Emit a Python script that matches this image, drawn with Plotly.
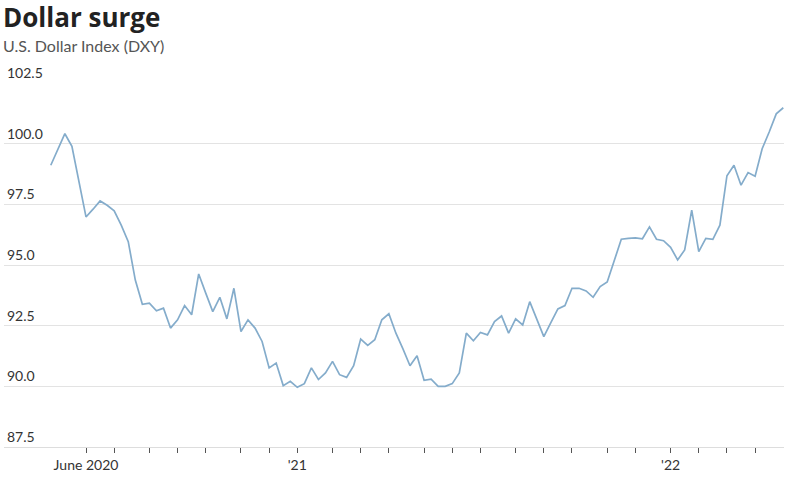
import pandas as pd
import plotly.graph_objects as go

# weekly closes (Fridays)
start = "2020-05-01"
dxy = [
    99.11, 99.75, 100.41, 99.89, 98.40, 96.98, 97.30, 97.64, 97.46, 97.23,
    96.64, 95.96, 94.38, 93.38, 93.43, 93.11, 93.22, 92.40, 92.74, 93.33,
    92.95, 94.63, 93.84, 93.08, 93.67, 92.78, 94.04, 92.26, 92.74, 92.40,
    91.85, 90.76, 90.96, 90.03, 90.21, 89.96, 90.11, 90.76, 90.28, 90.55,
    91.03, 90.48, 90.37, 90.85, 91.95, 91.69, 91.92, 92.74, 92.99, 92.19,
    91.54, 90.85, 91.26, 90.25, 90.30, 90.00, 90.00, 90.11, 90.55, 92.19,
    91.88, 92.22, 92.12, 92.67, 92.90, 92.19, 92.78, 92.53, 93.49, 92.74,
    92.05, 92.63, 93.19, 93.33, 94.04, 94.04, 93.93, 93.67, 94.11, 94.30,
    95.15, 96.06, 96.10, 96.12, 96.08, 96.57, 96.06, 96.00, 95.73, 95.21,
    95.62, 97.26, 95.55, 96.10, 96.06, 96.64, 98.68, 99.11, 98.29, 98.81,
    98.66, 99.79, 100.48, 101.23, 101.48,
]
dates = pd.date_range(start, periods=len(dxy), freq="7D")

y_ticks = [87.5, 90.0, 92.5, 95.0, 97.5, 100.0, 102.5]
y_labels = ["87.5", "90.0", "92.5", "95.0", "97.5", "100.0", "102.5"]

# month ticks sit on the first weekly point of each month
tick_dates = []
tick_text = []
for d in dates:
    if d.day <= 7 and d >= pd.Timestamp("2020-06-01"):
        tick_dates.append(d)
        if d.month == 6 and d.year == 2020:
            tick_text.append("June 2020")
        elif d.month == 1:
            tick_text.append("'" + str(d.year)[2:])
        else:
            tick_text.append("")

fig = go.Figure(go.Scatter(
    x=dates, y=dxy, mode="lines",
    line=dict(color="#84accb", width=1.7),
    hoverinfo="skip",
))

fig.update_layout(
    width=795, height=480,
    margin=dict(l=4, r=11, t=82.5, b=32.5),
    paper_bgcolor="white", plot_bgcolor="white",
    showlegend=False,
    font=dict(family="Lato, sans-serif", color="#333"),
    xaxis=dict(
        type="date",
        range=["2020-03-15 12:00", "2022-04-29 17:00"],
        tickvals=tick_dates, ticktext=tick_text,
        ticks="outside", ticklen=5, tickwidth=1, tickcolor="#555",
        showgrid=False, zeroline=False,
        showline=True, linecolor="#dddddd", linewidth=1,
        tickfont=dict(size=14, color="#333"),
    ),
    yaxis=dict(
        range=[87.5, 102.5],
        tickvals=y_ticks, ticktext=y_labels,
        ticklabelposition="inside top", ticklabeloverflow="allow",
        ticks="", showgrid=True, gridcolor="#e3e3e3", gridwidth=1,
        zeroline=False, showline=False,
        tickfont=dict(size=14, color="#333"),
    ),
    annotations=[
        dict(text="<b>Dollar surge</b>", xref="paper", yref="paper",
             x=-0.004, y=(480 - 32.5 - 16.5) / 365, xanchor="left", yanchor="middle",
             showarrow=False, font=dict(size=26, color="#222", family="Open Sans, sans-serif")),
        dict(text="U.S. Dollar Index (DXY)", xref="paper", yref="paper",
             x=-0.004, y=(480 - 32.5 - 44.5) / 365, xanchor="left", yanchor="middle",
             showarrow=False, font=dict(size=16, color="#555", family="Lato, sans-serif")),
    ],
)

fig.write_html("out.html", config={"displayModeBar": False},
               post_script="document.body.style.margin = '0';")
